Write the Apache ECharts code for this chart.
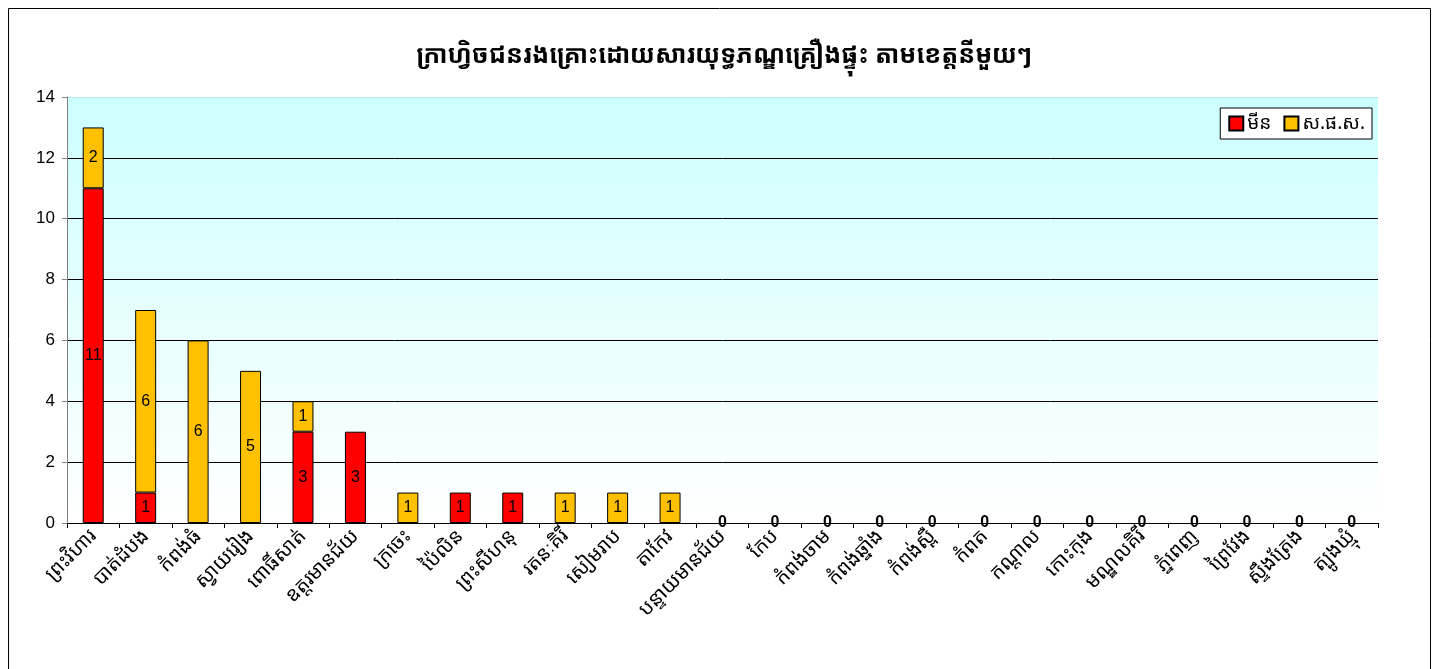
<!DOCTYPE html>
<html>
<head>
<meta charset="utf-8">
<script src="https://cdn.jsdelivr.net/npm/echarts@6/dist/echarts.min.js"></script>
<style>
html,body{margin:0;padding:0;background:#fff;}
#c{width:1448px;height:669px;}
</style>
</head>
<body>
<div id="c"></div>
<script>
const titleText = 'ក្រាហ្វិចជនរងគ្រោះដោយសារយុទ្ធភណ្ឌគ្រឿងផ្ទុះ តាមខេត្តនីមួយៗ';
const categories = ['ព្រះវិហារ','បាត់ដំបង','កំពង់ធំ','ស្វាយរៀង','ពោធិ៍សាត់','ឧត្តរមានជ័យ','ក្រចេះ','ប៉ៃលិន','ព្រះសីហនុ','រតនៈគិរី','សៀមរាប','តាកែវ','បន្ទាយមានជ័យ','កែប','កំពង់ចាម','កំពង់ឆ្នាំង','កំពង់ស្ពឺ','កំពត','កណ្ដាល','កោះកុង','មណ្ឌលគិរី','ភ្នំពេញ','ព្រៃវែង','ស្ទឹងត្រែង','ត្បូងឃ្មុំ'];
const seriesNames = ['មីន','ស.ផ.ស.'];
const mineValues = [11,1,0,0,3,3,0,1,1,0,0,0,0,0,0,0,0,0,0,0,0,0,0,0,0];
const uxoValues  = [2,6,6,5,1,0,1,0,0,1,1,1,0,0,0,0,0,0,0,0,0,0,0,0,0];

const khmerFont = '"Noto Sans Khmer","Khmer OS","Noto Sans","DejaVu Sans",sans-serif';
const numFont = '"Liberation Sans",Arial,sans-serif';
const toItems = arr => arr.map(v => v === 0 ? {value:0, itemStyle:{borderWidth:0}} : v);

const chart = echarts.init(document.getElementById('c'));
chart.setOption({
  animation:false,
  backgroundColor:'#fff',
  graphic:[{type:'rect',shape:{x:8.5,y:8.5,width:1422,height:680},style:{fill:'none',stroke:'#000',lineWidth:1},silent:true}],
  title:{text:titleText,left:'center',top:38,textStyle:{fontFamily:khmerFont,fontSize:25,fontWeight:'bold',color:'#000'}},
  legend:{
    right:76,top:108,orient:'horizontal',
    backgroundColor:'#fff',borderColor:'#000',borderWidth:1,borderRadius:0,
    padding:[6,7,6,8],itemWidth:14,itemHeight:14,itemGap:12,
    textStyle:{fontFamily:khmerFont,fontSize:19,color:'#000',padding:[0,0,0,-1]},
    data:seriesNames.map(n=>({name:n,icon:'rect'}))
  },
  grid:{left:67,right:70,top:97,bottom:146,show:true,borderWidth:0,
    backgroundColor:{type:'linear',x:0,y:0,x2:0,y2:1,colorStops:[{offset:0,color:'#CCFFFF'},{offset:1,color:'#FFFFFF'}]}},
  xAxis:{
    type:'category',data:categories,
    axisLine:{lineStyle:{color:'#000',width:1}},
    axisTick:{show:true,length:5,lineStyle:{color:'#000'}},
    axisLabel:{rotate:45,fontFamily:khmerFont,fontSize:20,color:'#000',margin:10,interval:0}
  },
  yAxis:{
    type:'value',min:0,max:14,interval:2,
    axisLine:{show:true,lineStyle:{color:'#808080'}},
    axisTick:{show:true,length:5,lineStyle:{color:'#808080'}},
    axisLabel:{fontFamily:numFont,fontSize:17,color:'#000',margin:12},
    splitLine:{lineStyle:{color:['#000','#000','#000','#000','#000','#000','#000','#b8e8e8'],width:1}}
  },
  series:[
    {name:seriesNames[0],type:'bar',stack:'t',data:toItems(mineValues),barWidth:'40%',
     itemStyle:{color:'#FF0000',borderColor:'#000',borderWidth:1},
     label:{show:true,position:'inside',fontFamily:numFont,fontSize:16,color:'#000',
       formatter:p=>p.value>0?String(p.value):''}},
    {name:seriesNames[1],type:'bar',stack:'t',data:toItems(uxoValues),barWidth:'40%',
     itemStyle:{color:'#FFC000',borderColor:'#000',borderWidth:1},
     label:{show:true,position:'inside',fontFamily:numFont,fontSize:16,color:'#000',
       formatter:p=>(p.value>0?String(p.value):(mineValues[p.dataIndex]===0?'{z|0}':'')),
       rich:{z:{fontFamily:numFont,fontSize:16,fontWeight:'bold',color:'#000'}}}}
  ]
});
</script>
</body>
</html>
